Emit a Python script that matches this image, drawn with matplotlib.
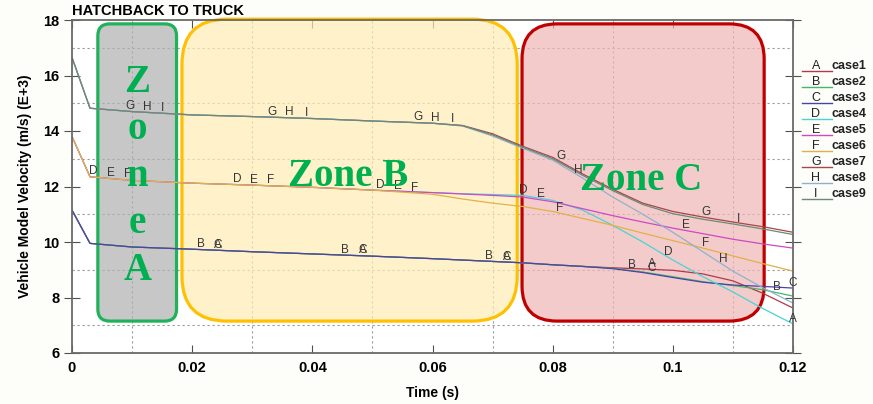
import numpy as np
import matplotlib
matplotlib.use('Agg')
import matplotlib.pyplot as plt
from matplotlib.patches import FancyBboxPatch
from matplotlib.lines import Line2D

# time grid (s)
t = [0, 0.003, 0.01, 0.02, 0.03, 0.04, 0.05, 0.06, 0.065, 0.07, 0.075,
     0.08, 0.085, 0.09, 0.095, 0.1, 0.105, 0.11, 0.115, 0.12]

# velocities (E+3 m/s)
case1 = [11.15, 9.95, 9.82, 9.74, 9.65, 9.57, 9.49, 9.40, 9.35, 9.30, 9.25,
         9.18, 9.12, 9.07, 9.03, 8.98, 8.85, 8.60, 8.15, 7.62]
case2 = [11.15, 9.95, 9.82, 9.74, 9.65, 9.57, 9.49, 9.40, 9.35, 9.30, 9.25,
         9.18, 9.12, 9.05, 8.92, 8.75, 8.57, 8.43, 8.28, 8.05]
case3 = [11.15, 9.95, 9.82, 9.74, 9.65, 9.57, 9.49, 9.40, 9.35, 9.30, 9.25,
         9.18, 9.12, 9.04, 8.90, 8.72, 8.55, 8.45, 8.40, 8.34]
case4 = [13.8, 12.35, 12.22, 12.12, 12.05, 11.97, 11.87, 11.78, 11.74, 11.71, 11.68,
         11.50, 11.15, 10.60, 10.00, 9.35, 8.75, 8.20, 7.60, 7.05]
case5 = [13.8, 12.35, 12.22, 12.12, 12.05, 11.97, 11.87, 11.78, 11.73, 11.68, 11.62,
         11.45, 11.20, 10.95, 10.72, 10.50, 10.30, 10.10, 9.93, 9.78]
case6 = [13.8, 12.35, 12.22, 12.12, 12.05, 11.97, 11.87, 11.72, 11.55, 11.40, 11.28,
         11.10, 10.85, 10.60, 10.32, 10.05, 9.78, 9.50, 9.22, 8.95]
case7 = [16.65, 14.82, 14.70, 14.58, 14.52, 14.45, 14.36, 14.28, 14.20, 13.90, 13.45,
         13.05, 12.45, 11.90, 11.40, 11.10, 10.90, 10.72, 10.55, 10.35]
case8 = [16.65, 14.82, 14.70, 14.58, 14.52, 14.45, 14.36, 14.28, 14.18, 13.82, 13.38,
         12.95, 12.30, 11.62, 11.00, 10.35, 9.65, 8.95, 8.35, 7.80]
case9 = [16.65, 14.82, 14.70, 14.58, 14.52, 14.45, 14.36, 14.28, 14.19, 13.86, 13.42,
         13.00, 12.40, 11.85, 11.35, 11.02, 10.82, 10.65, 10.47, 10.27]

series = [case1, case2, case3, case4, case5, case6, case7, case8, case9]
letters = ['A', 'B', 'C', 'D', 'E', 'F', 'G', 'H', 'I']
names = ['case1', 'case2', 'case3', 'case4', 'case5', 'case6', 'case7', 'case8', 'case9']
colors = ['#b03a4a', '#44b868', '#4a44a8', '#48d4d4', '#d048c4', '#e2b048',
          '#a44848', '#8fb2cc', '#6a8a78']

# times where the letter markers sit on each curve
mark_t = [
    [0.0243, 0.0484, 0.0724, 0.0965, 0.12],
    [0.0215, 0.0454, 0.0694, 0.0932, 0.1173],
    [0.0243, 0.0484, 0.0724, 0.0965, 0.12],
    [0.0035, 0.0275, 0.0513, 0.0751, 0.0992],
    [0.0065, 0.0303, 0.0543, 0.0781, 0.1022],
    [0.0092, 0.0331, 0.0571, 0.0812, 0.1054],
    [0.0096, 0.0333, 0.0576, 0.0814, 0.1055],
    [0.0125, 0.0361, 0.0604, 0.0842, 0.1084],
    [0.0151, 0.0390, 0.0633, 0.0870, 0.1110],
]

# zones: (x0, x1, y0, y1), corner radius in px
zones = [
    ((0.0043, 0.0174, 7.15, 17.86), 12, '#1fb25a', (176/255, 176/255, 176/255, 0.7)),
    ((0.0183, 0.0741, 7.15, 18.03), 45, '#ffc000', (1.0, 237/255, 180/255, 0.7)),
    ((0.0749, 0.1152, 7.15, 17.86), 35, '#c00000', (240/255, 182/255, 182/255, 0.7)),
]

W, H = 873, 404
fig = plt.figure(figsize=(W / 100, H / 100), dpi=100)
fig.patch.set_facecolor('#fdfdf9')
ax = fig.add_axes([72 / W, 1 - 353 / H, (793 - 72) / W, (353 - 20) / H])
ax.set_xlim(0, 0.12)
ax.set_ylim(6, 18)
ax.set_axisbelow(True)

ax.set_xticks(np.arange(0, 0.1201, 0.02))
ax.set_xticklabels(['0', '0.02', '0.04', '0.06', '0.08', '0.1', '0.12'])
ax.set_yticks(np.arange(6, 18.1, 2))
ax.set_xticks(np.arange(0.01, 0.12, 0.02), minor=True)
ax.set_yticks(np.arange(7, 18, 2), minor=True)
ax.grid(which='minor', color='#9a9a9a', linestyle=(0, (2, 2.5)), linewidth=0.8)
ax.tick_params(which='minor', length=0)
ax.tick_params(axis='x', which='major', direction='in', length=6, top=True,
               color='#505050', labelsize=10.5, pad=6)
ax.tick_params(axis='y', which='major', direction='inout', length=11, right=True,
               color='#505050', labelsize=10.5)
for lab in ax.get_xticklabels() + ax.get_yticklabels():
    lab.set_fontweight('bold')
    lab.set_family('Liberation Sans')
for s in ax.spines.values():
    s.set_color('#6a6a6a')
    s.set_linewidth(1.3)

# zones (rounded boxes in inch space so corners stay round)
for (x0, x1, y0, y1), r, ec, fc in zones:
    p0 = ax.transData.transform((x0, y0)) / fig.dpi
    p1 = ax.transData.transform((x1, y1)) / fig.dpi
    box = FancyBboxPatch(p0, p1[0] - p0[0], p1[1] - p0[1],
                         boxstyle='round,pad=0,rounding_size=%f' % (r / 100),
                         transform=fig.dpi_scale_trans, facecolor=fc,
                         edgecolor=ec, linewidth=2.3, zorder=1, clip_on=False)
    ax.add_patch(box)

for v, c in zip(series, colors):
    ax.plot(t, v, color=c, linewidth=0.9, zorder=2)

for v, L, mt in zip(series, letters, mark_t):
    for tm in mt:
        y = np.interp(tm, t, v)
        dy = 4
        if tm == 0.12:
            dy = 4 if L == 'C' else -8
        ax.annotate(L, (tm, y), xytext=(0, dy), textcoords='offset points',
                    ha='center', va='center', fontsize=8.5, color='#353535',
                    family='Liberation Sans', zorder=3, annotation_clip=False)

zfont = dict(family='Liberation Serif', fontweight='bold', color='#00b050',
             fontsize=28, zorder=4)
ax.text(0.0109, 12.35, 'Z\no\nn\ne\nA', ha='center', va='center',
        linespacing=1.36, **zfont)
ax.text(0.0460, 12.35, 'Zone B', ha='center', va='center', **zfont)
ax.text(0.0948, 12.2, 'Zone C', ha='center', va='center', **zfont)

ax.set_xlabel('Time (s)', fontsize=10, fontweight='bold', family='Liberation Sans',
              labelpad=8)
ax.set_ylabel('Vehicle Model Velocity (m/s) (E+3)', fontsize=10, fontweight='bold',
              family='Liberation Sans', labelpad=8)
fig.text(72 / W, 1 - 11 / H, 'HATCHBACK TO TRUCK', fontsize=10.5, fontweight='bold',
         family='Liberation Sans', va='center', ha='left')

# legend on the right
for i, (L, n, c) in enumerate(zip(letters, names, colors)):
    yc = 66 + 16 * i
    fig.add_artist(Line2D([802 / W, 832 / W], [1 - (yc + 5) / H] * 2,
                          color=c, linewidth=1.0))
    fig.text(816 / W, 1 - yc / H, L, ha='center', va='center', fontsize=9,
             family='Liberation Sans', color='#222222')
    fig.text(832 / W, 1 - yc / H, n, ha='left', va='center', fontsize=9,
             fontweight='bold', family='Liberation Sans', color='#222222')

fig.savefig('out.png', dpi=100, facecolor=fig.get_facecolor())
